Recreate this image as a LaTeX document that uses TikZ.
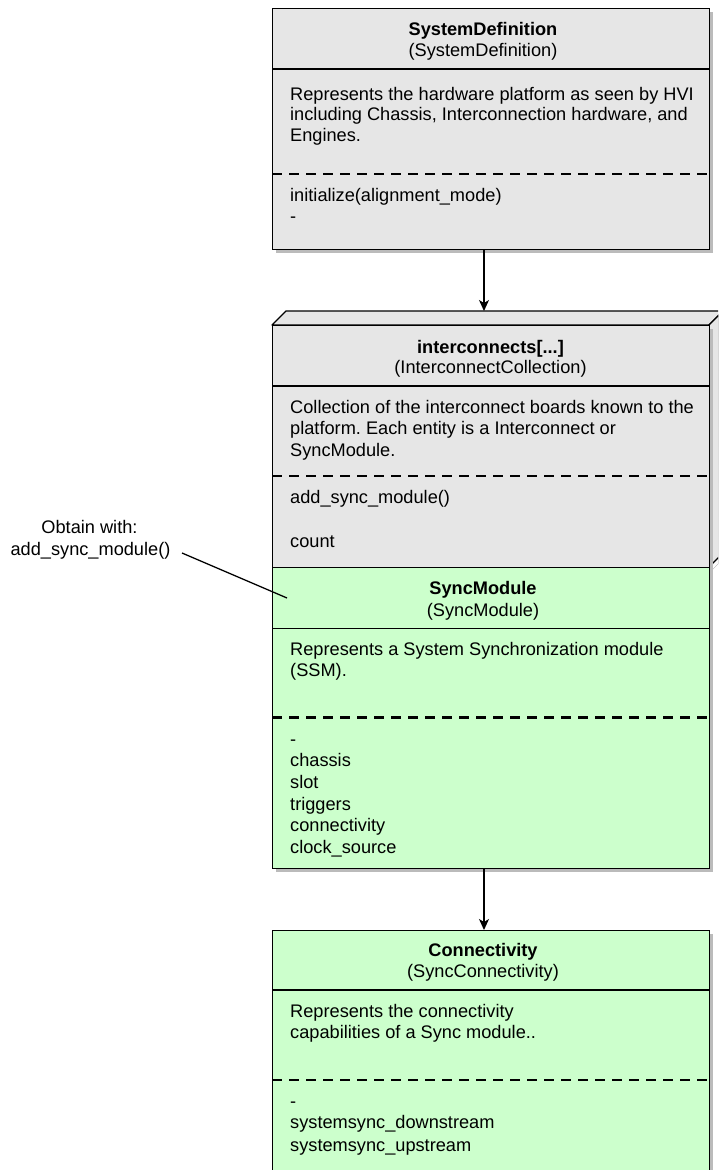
\documentclass[tikz,border=0pt]{standalone}
\usepackage{fontspec}
\setmainfont{Liberation Sans}
\usetikzlibrary{arrows.meta,shadows}
\definecolor{boxgray}{HTML}{E6E6E6}
\definecolor{boxgreen}{HTML}{CCFFCC}
\definecolor{shade}{HTML}{BBBBBB}
\frenchspacing
\begin{document}
\begin{tikzpicture}[x=1pt,y=-1pt,
  box/.style={draw=black, line width=1.3pt, anchor=north west, inner sep=0pt, minimum width=437pt,
    drop shadow={shadow xshift=3pt, shadow yshift=-3pt, fill=shade, opacity=1}},
  graybox/.style={box, fill=boxgray},
  greenbox/.style={box, fill=boxgreen},
  sepline/.style={line width=1.3pt},
  dashline/.style={line width=2.8pt, dash pattern=on 10pt off 7pt},
  txt/.style={anchor=base west, inner sep=0pt, font=\fontsize{18.2}{21}\selectfont},
  ttl/.style={anchor=base, inner sep=0pt, font=\fontsize{18.2}{21}\selectfont\bfseries},
  sub/.style={anchor=base, inner sep=0pt, font=\fontsize{18.2}{21}\selectfont},
  note/.style={anchor=base, inner sep=0pt, font=\fontsize{18.2}{21}\selectfont},
  arr/.style={line width=1.3pt, -{Stealth[length=11pt,width=10pt,inset=3pt]}},
  conn/.style={line width=1.3pt}
]
\clip (0,0) rectangle (718,1170);
\fill[white] (0,0) rectangle (718,1170);

% ---------------- SystemDefinition
\node[graybox, minimum height=241pt] (sysdef) at (272,8) {};
\draw[sepline] (272,69) -- (709,69);
\draw[dashline] (272,174) -- (709,174);
\node[ttl] (sdt) at (483,35.7) {SystemDefinition};
\node[sub] (sds) at (483,56.7) {(SystemDefinition)};
\node[txt] (sd1) at (290,100) {Represents the hardware platform as seen by HVI};
\node[txt] (sd2) at (290,120.5) {including Chassis, Interconnection hardware, and};
\node[txt] (sd3) at (290,141) {Engines.};
\node[txt] (sd4) at (290,201.7) {initialize(alignment\_mode)};
\node[txt] (sd5) at (290,222) {-};

% ---------------- interconnects cube
\fill[shade] (275,328) -- (289,314) -- (726,314) -- (726,556) -- (712,570) -- (275,570) -- cycle;
\filldraw[fill=boxgray, line width=1.3pt, line join=round] (272,325) -- (286,311) -- (723,311) -- (709,325) -- cycle;
\filldraw[fill=boxgray, line width=1.3pt, line join=round] (709,325) -- (723,311) -- (723,553) -- (709,567) -- cycle;
\node[graybox, minimum height=242pt, drop shadow={opacity=0}] (ic) at (272,325) {};
\draw[sepline] (272,386) -- (709,386);
\draw[dashline] (272,476) -- (709,476);
\node[ttl] (ict) at (490.5,353.3) {interconnects[...]};
\node[sub] (ics) at (490.5,373.3) {(InterconnectCollection)};
\node[txt] (ic1) at (290,413.3) {Collection of the interconnect boards known to the};
\node[txt] (ic2) at (290,434.8) {platform. Each entity is a Interconnect or};
\node[txt] (ic3) at (290,456.3) {SyncModule.};
\node[txt] (ic4) at (290,503.3) {add\_sync\_module()};
\node[txt] (ic5) at (290,547.3) {count};

% ---------------- SyncModule
\node[greenbox, minimum height=301pt] (sm) at (272,567) {};
\draw[sepline] (272,628.3) -- (709,628.3);
\draw[dashline] (272,717.7) -- (709,717.7);
\node[ttl] (smt) at (483,594.3) {SyncModule};
\node[sub] (sms) at (483,616) {(SyncModule)};
\node[txt] (sm1) at (290,655) {Represents a System Synchronization module};
\node[txt] (sm2) at (290,676.7) {(SSM).};
\node[txt] (sm3) at (290,745) {-};
\node[txt] (sm4) at (290,766.7) {chassis};
\node[txt] (sm5) at (290,788.4) {slot};
\node[txt] (sm6) at (290,810.1) {triggers};
\node[txt] (sm7) at (290,831.8) {connectivity};
\node[txt] (sm8) at (290,853.5) {clock\_source};

% ---------------- Connectivity
\node[greenbox, minimum height=260pt] (cn) at (272,930) {};
\draw[sepline] (272,990) -- (709,990);
\draw[dashline] (272,1080) -- (709,1080);
\node[ttl] (cnt) at (483,956.7) {Connectivity};
\node[sub] (cns) at (483,977.3) {(SyncConnectivity)};
\node[txt] (cn1) at (290,1017.3) {Represents the connectivity};
\node[txt] (cn2) at (290,1038.3) {capabilities of a Sync module..};
\node[txt] (cn3) at (290,1107) {-};
\node[txt] (cn4) at (290,1128.3) {systemsync\_downstream};
\node[txt] (cn5) at (290,1151.7) {systemsync\_upstream};

% ---------------- connectors
\coordinate (a1s) at (484,249);
\coordinate (a1e) at (484,311);
\draw[arr] (a1s) -- (a1e);
\coordinate (a2s) at (484,868);
\coordinate (a2e) at (484,930);
\draw[arr] (a2s) -- (a2e);

% ---------------- note
\node[note] (n1) at (89.5,533) {Obtain with:};
\node[note] (n2) at (90.5,555) {add\_sync\_module()};
\coordinate (ns) at (182,553);
\coordinate (ne) at (287,598);
\draw[conn] (ns) -- (ne);
\end{tikzpicture}
\end{document}
